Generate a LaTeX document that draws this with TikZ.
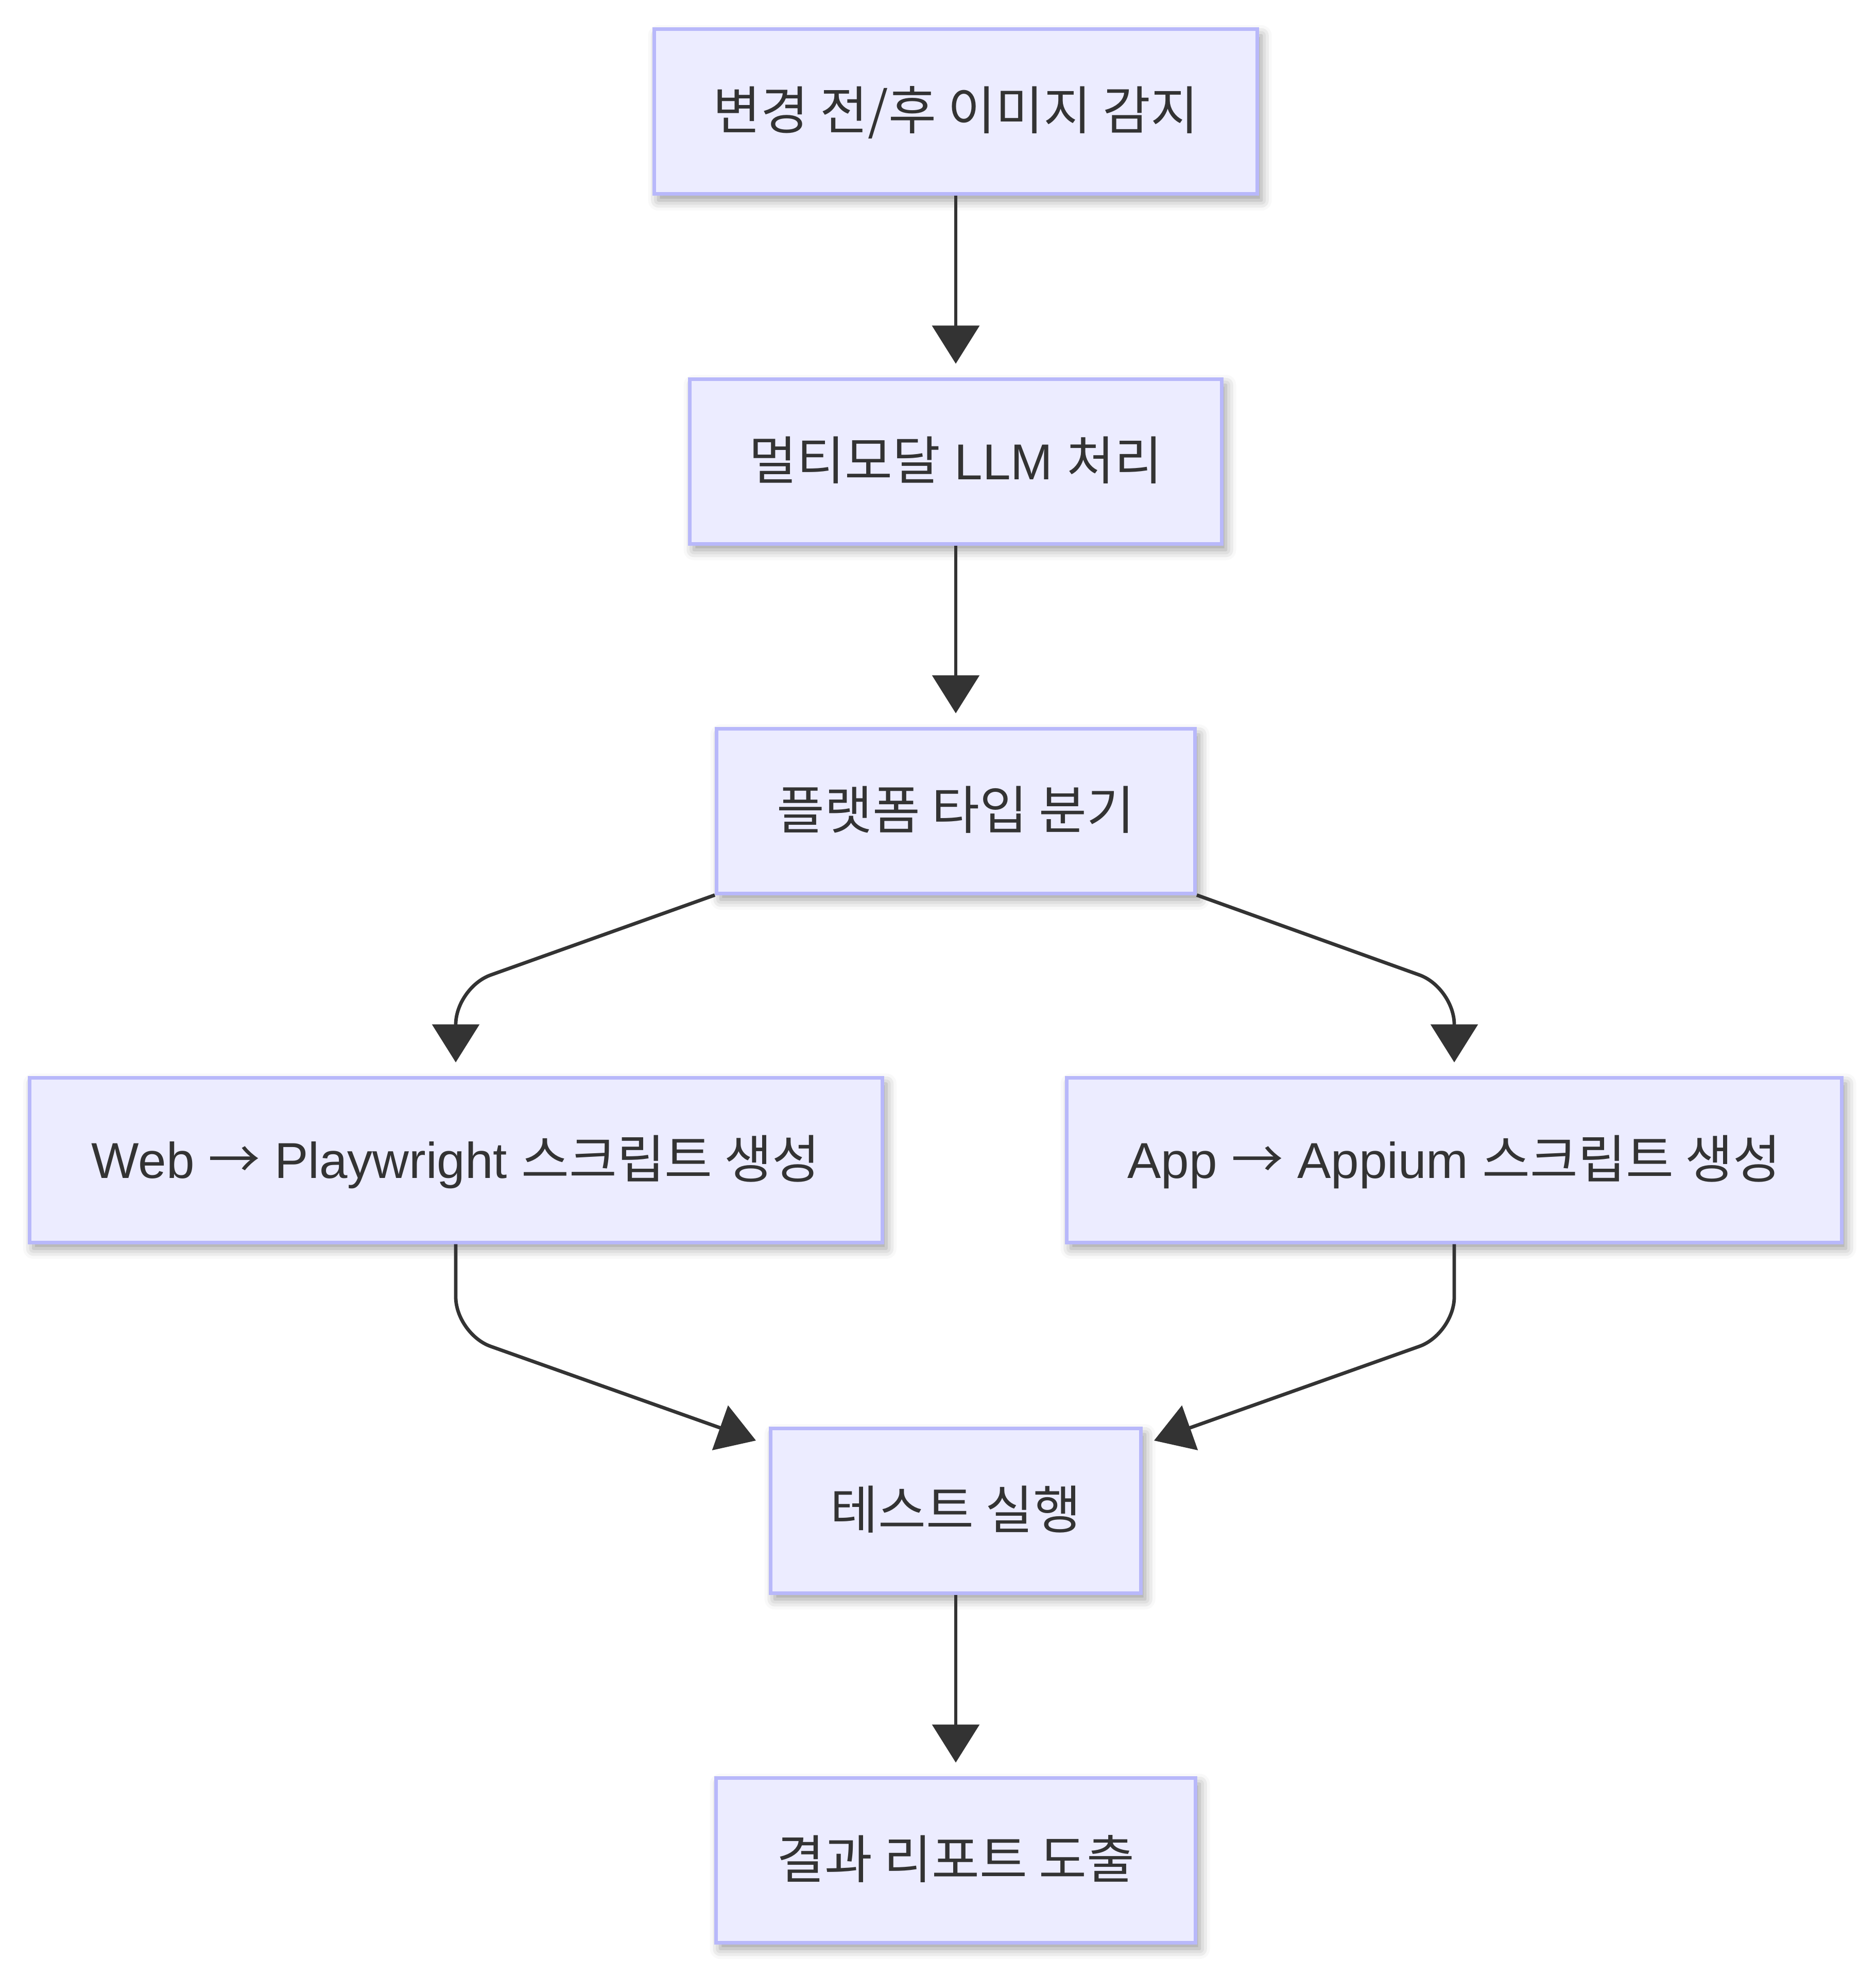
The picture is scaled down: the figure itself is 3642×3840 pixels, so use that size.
\documentclass[tikz,border=0pt]{standalone}
\usepackage{fontspec}
\setmainfont{Liberation Sans}
\newfontfamily\kr[Scale=1.03]{Noto Sans CJK KR}
\usepackage{xcolor}
\usepackage{tikz}
\usetikzlibrary{arrows.meta,shadows.blur}
\definecolor{nodefill}{HTML}{ECECFF}
\definecolor{nodeline}{HTML}{B8B8FA}
\definecolor{ink}{HTML}{333333}
\tikzset{
  box/.style={rectangle, draw=nodeline, fill=nodefill, line width=1.75pt, inner sep=0pt,
    minimum height=80pt, text=ink, font=\fontsize{24.5}{29}\selectfont,
    text height=17.5pt, text depth=0pt,
    blur shadow={shadow xshift=2pt, shadow yshift=-3pt, shadow blur radius=5pt, shadow opacity=40}},
  edge/.style={draw=ink, line width=1.7pt, rounded corners=18pt,
    -{Triangle[length=18.5pt, width=22.75pt]}},
  tonode/.style={edge, shorten >=6.5pt},
}

\begin{document}
\begin{tikzpicture}[x=0.25pt, y=-0.25pt]
  \useasboundingbox (0,0) rectangle (3642,3840);

  \node[box, minimum width=292.75pt] (detect) at (1856,217) {{\kr 변경 전/후 이미지 감지}};
  \node[box, minimum width=258.25pt] (llm) at (1856,896) {{\kr 멀티모달} LLM {\kr 처리}};
  \node[box, minimum width=232.25pt] (split) at (1856,1575) {{\kr 플랫폼 타입 분기}};
  \node[box, minimum width=414pt] (web) at (885,2253) {Web {\kr →} Playwright {\kr 스크립트 생성}};
  \node[box, minimum width=376.25pt] (app) at (2824,2253) {App {\kr →} Appium {\kr 스크립트 생성}};
  \node[box, minimum width=179.75pt] (run) at (1856,2934) {{\kr 테스트 실행}};
  \node[box, minimum width=232.75pt] (report) at (1856,3613) {{\kr 결과 리포트 도출}};

  % bends and ends of the branch edges
  \coordinate (webin) at (885,1918);
  \coordinate (appin) at (2824,1918);
  \coordinate (webout) at (885,2591);
  \coordinate (appout) at (2824,2591);
  \coordinate (runw) at (1468,2798);
  \coordinate (rune) at (2241,2798);

  \draw[tonode] (detect) -- (llm);
  \draw[tonode] (llm) -- (split);
  \draw[tonode] (split.south west) -- (webin) -- (web.north);
  \draw[tonode] (split.south east) -- (appin) -- (app.north);
  \draw[edge] (web.south) -- (webout) -- (runw);
  \draw[edge] (app.south) -- (appout) -- (rune);
  \draw[tonode] (run) -- (report);
\end{tikzpicture}
\end{document}
